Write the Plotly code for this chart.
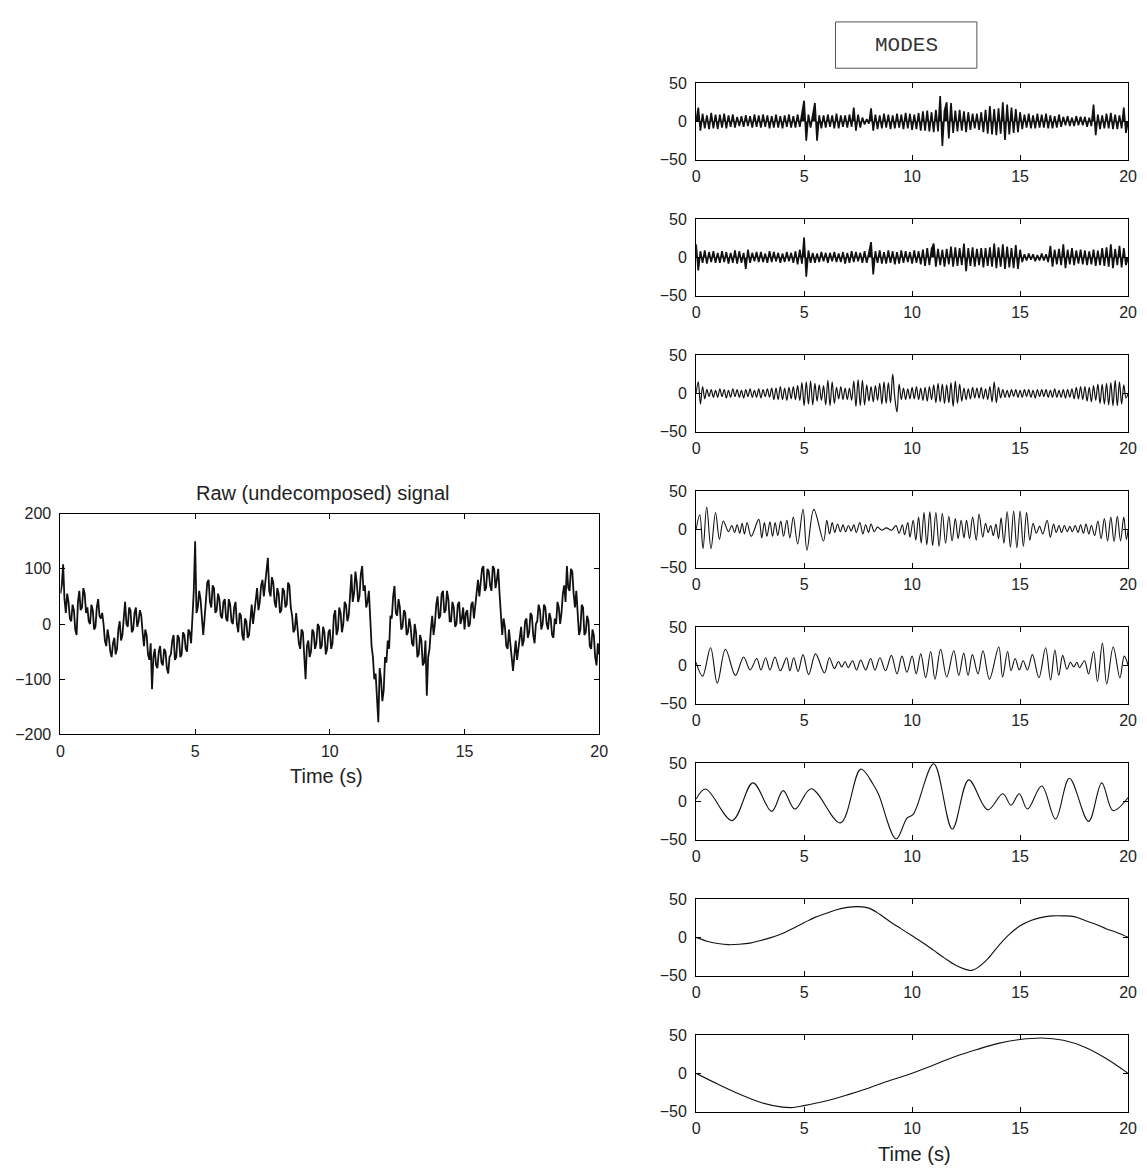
import plotly.graph_objects as go

# page offset: the browser body has an 8 px margin, so the figure is drawn
# 8 px smaller and every reference pixel position is shifted by that margin
OFF = 8
W, H = 1147 - OFF, 1173 - OFF

DT_RAW = 0.05
DT = 0.1

# ---------------- data ----------------
RAW = [
    55, 70, 108, 45, 20, 55, 40, 10, 5, 35, 25, -10, -20, 40, 60, 25, 30, 65, 55, 20,
    30, 5, 0, 35, 25, -10, -5, 30, 45, 15, 10, 20, 0, -30, -40, -10, -25, -50, -60, -35,
    -25, -55, -45, -10, 5, -30, -20, 20, 40, 0, -5, 30, 25, -15, -10, 20, 30, -5, 5, 25,
    15, -15, -40, -10, -20, -55, -65, -35, -118, -60, -45, -75, -80, -50, -40, -70, -75, -45, -50, -80,
    -90, -60, -55, -30, -20, -65, -60, -20, -25, -60, -55, -15, -20, -45, -50, -10, -15, -35, 20, 60,
    150, 20, 30, 60, 45, 0, -20, 10, 40, 75, 80, 40, 30, 70, 65, 20, 25, 55, 45, 15,
    10, 40, 45, 10, 5, 45, 35, 5, 0, 30, 40, 0, -15, 20, 15, -20, -30, 10, 5, -25,
    -20, 10, 35, 0, 20, 50, 65, 25, 40, 70, 80, 50, 70, 100, 120, 60, 50, 85, 75, 40,
    30, 65, 55, 20, 25, 65, 60, 30, 35, 75, 70, 30, 15, -15, -10, 20, -5, -35, -45, -10,
    -15, -50, -100, -40, -30, -60, -50, -10, -15, -45, -35, 0, -5, -45, -40, -5, -15, -55, -45, -15,
    -10, -45, -35, 15, 25, -20, -10, 30, 20, -15, 0, 40, 35, 5, 15, 50, 90, 40, 55, 95,
    75, 40, 50, 90, 105, 60, 70, 30, 40, 60, 5, -40, -60, -100, -90, -140, -178, -80, -100, -140,
    -120, -60, -70, -30, -45, 15, 10, 50, 69, 20, 15, 45, 30, -10, -5, 25, 20, -20, -15, 10,
    -5, -35, -40, 0, -15, -60, -55, -20, -30, -75, -70, -30, -130, -60, -45, -10, 15, -20, 0, 35,
    50, 10, 15, 55, 60, 20, 25, 60, 45, 5, 5, 40, 30, -5, 0, 35, 40, 0, 10, 30,
    -10, 20, 25, -5, 0, 35, 40, 10, 30, 60, 80, 50, 75, 100, 105, 60, 65, 100, 95, 70,
    60, 105, 100, 65, 80, 100, 55, 20, -20, 10, -5, -40, -45, -10, -30, -60, -85, -50, -30, -65,
    -45, -15, -5, -40, -30, 5, 10, -25, -15, 20, 15, -20, -35, 0, 5, 35, 25, -10, 0, 35,
    30, 0, -10, 20, 10, -20, -25, 10, 0, 40, 30, 0, 20, 55, 70, 40, 105, 65, 60, 100,
    95, 55, 30, 60, 20, -20, -10, 35, 30, -20, -15, 15, 5, -40, -45, -10, -20, -60, -75, -35,
    -55,
]

MODE1 = [
    0, 18, -12, 10, -9, 8, -10, 11, -9, 9,
    -10, 9, -8, 10, -9, 8, -7, 9, -8, 6,
    -6, 7, -7, 8, -6, 7, -8, 9, -7, 8,
    -8, 9, -7, 8, -9, 7, -8, 9, -8, 7,
    -9, 8, -7, 9, -8, 7, -8, 9, -7, 8,
    27, -25, 9, -8, 7, 24, -25, 8, -9, 8,
    -8, 9, -7, 8, -9, 10, -9, 8, -7, 8,
    -8, 9, -7, 18, -12, 9, -8, 5, -4, 3,
    -3, 17, -12, 9, -10, 8, -9, 10, -8, 9,
    -10, 8, -9, 10, -8, 9, -10, 11, -9, 10,
    -11, 9, -10, 11, -12, 13, -12, 14, -13, 12,
    -14, 15, -13, 33, -32, 14, 25, -22, 24, -15,
    14, -13, 15, -12, 13, -14, 12, -11, 10, -9,
    10, -11, 12, -14, 15, -16, 20, -17, 16, -18,
    17, -16, 25, -24, 22, -17, 18, -15, 16, -14,
    12, -10, 9, -8, 10, -9, 8, -9, 10, -8,
    9, -8, 10, -9, 8, -9, 7, -8, 9, -7,
    6, -5, 7, -6, 5, -6, 7, -5, 6, -5,
    6, -7, 5, -6, 22, -18, 9, -10, 8, -9,
    10, -9, 11, -10, 9, -10, 8, -9, 18, -15,
    0,
]

MODE2 = [
    17, -17, 8, -7, 9, -8, 7, -6, 8, -7,
    6, -7, 8, -6, 7, -8, 6, -7, 9, -8,
    8, -7, 6, -15, 10, -7, 6, -5, 7, -6,
    7, -6, 5, -7, 8, -6, 7, -5, 6, -7,
    5, -6, 7, -5, 6, -7, 8, -9, 10, -8,
    26, -25, 9, -7, 6, -7, 5, -6, 7, -5,
    6, -7, 6, -5, 7, -6, 5, -6, 7, -8,
    6, -7, 8, -6, 7, -5, 6, -7, 8, -7,
    6, 20, -22, 8, -7, 9, -8, 7, -8, 9,
    -7, 8, -9, 7, -8, 9, -7, 8, -6, 7,
    -8, 9, -7, 8, -9, 10, -11, 12, -10, 11,
    18, -12, 11, -10, 10, -12, 11, -9, 14, -12,
    13, -11, 12, -10, 18, -18, 12, -11, 13, -12,
    11, -10, 12, -13, 12, -11, 13, -12, 18, -14,
    13, -12, 17, -15, 14, -13, 12, -14, 16, -15,
    10, -6, 4, -4, 5, -3, 4, -5, 3, -4,
    5, -4, 4, -6, 15, -12, 10, -9, 11, -10,
    17, -14, 10, -9, 12, -10, 9, -8, 10, -9,
    9, -10, 8, -9, 10, -11, 9, -10, 12, -11,
    13, -12, 17, -14, 11, -10, 15, -13, 12, -10,
    0,
]

MODE3 = [
    0, 15, -14, 9, -7, 5, -4, 5, -5, 4,
    -5, 6, -4, 5, -6, 4, -5, 6, -4, 5,
    -5, 4, -6, 5, -4, 6, -5, 4, -5, 6,
    -6, 5, -4, 6, -5, 7, -8, 7, -8, 9,
    -8, 7, -9, 8, -7, 9, -8, 10, -9, 14,
    -16, 15, -14, 16, -15, 13, -10, 11, -9, 10,
    -15, 17, -16, 15, -13, 8, -7, 9, -8, 7,
    -8, 7, -9, 16, -17, 18, -16, 17, -15, 11,
    -10, 9, -11, 10, -9, 13, -14, 15, -13, 14,
    -12, 25, -6, -24, 12, -8, 7, -8, 6, -7,
    8, -7, 9, -8, 7, -9, 8, -10, 9, -8,
    11, -12, 13, -11, 12, -13, 11, -12, 14, -17,
    16, -13, 12, -10, 7, -8, 6, -7, 8, -6,
    7, -6, 8, -7, 6, -8, 9, -11, 15, -12,
    8, -6, 5, -5, 4, -5, 5, -4, 5, -5,
    4, -5, 5, -4, 5, -5, 4, -6, 5, -4,
    5, -4, 5, -5, 4, -5, 6, -5, 4, -5,
    5, -6, 5, -5, 6, -7, 8, -7, 9, -8,
    9, -10, 8, -11, 10, -9, 12, -13, 12, -14,
    13, -15, 14, -16, 17, -16, 15, -14, 11, -6,
    0,
]

MODE4_T = [0, 0.17, 0.32, 0.49, 0.69, 0.9, 1.08, 1.26, 1.5, 1.65, 1.78, 1.9,
           2.02, 2.13, 2.24, 2.36, 2.55, 2.9, 3.04, 3.16, 3.28, 3.42, 3.54,
           3.66, 3.78, 3.92, 4.05, 4.2, 4.34, 4.5, 4.7, 4.95, 5.13, 5.45, 5.9,
           6.05, 6.18, 6.3, 6.42, 6.55, 6.68, 6.8, 6.92, 7.05, 7.18, 7.3, 7.42,
           7.58, 7.72, 7.85, 7.98, 8.1, 8.25, 8.4, 8.6, 8.8, 9.05, 9.25, 9.4,
           9.55, 9.65, 9.8, 9.9, 10.05, 10.17, 10.3, 10.42, 10.55, 10.68,
           10.82, 10.95, 11.1, 11.25, 11.4, 11.55, 11.7, 11.85, 12.0, 12.13,
           12.27, 12.4, 12.52, 12.66, 12.8, 12.97, 13.1, 13.27, 13.4, 13.52,
           13.64, 13.76, 13.88, 14.0, 14.12, 14.25, 14.4, 14.55, 14.7, 14.85,
           15.0, 15.15, 15.3, 15.45, 15.6, 15.75, 15.9, 16.05, 16.25, 16.4,
           16.55, 16.67, 16.8, 16.92, 17.05, 17.18, 17.3, 17.42, 17.55, 17.68,
           17.8, 17.93, 18.05, 18.18, 18.3, 18.45, 18.6, 18.75, 18.9, 19.05,
           19.2, 19.35, 19.5, 19.65, 19.8, 19.92, 20.0]
MODE4_V = [0, 19, -25, 29, -25, 22, -13, 11, -3, 5, -4, 6,
           -5, 8, -6, 9, -9, 13, -11, 9, -9, 10, -9,
           9, -8, 11, -9, 12, -11, 16, -19, 26, -27, 26, -15,
           12, -6, 9, -4, 7, -3, 6, -3, 5, -2, 6, -4,
           9, -6, 6, -4, 7, -3, 3, -1, 2, -1, 5, -5,
           6, -7, 9, -10, 12, -14, 16, -18, 22, -20,
           23, -21, 22, -22, 21, -18, 17, -15, 14, -12,
           12, -11, 12, -12, 16, -14, 20, -10, 8, -4,
           5, -8, 7, -12, 15, -18, 23, -23, 24, -24,
           24, -22, 22, -14, 8, -5, 4, -6, 12, -10,
           7, -4, 5, -4, 5, -3, 4, -3, 5, -4,
           6, -5, 7, -6, 5, -8, 11, -12, 14, -15,
           16, -16, 17, -15, 16, -13, 0]

MODE5_T = [0, 0.3, 0.67, 0.98, 1.36, 1.82, 2.2, 2.5, 2.81, 3.0, 3.22, 3.42,
           3.65, 3.9, 4.19, 4.34, 4.52, 4.72, 4.95, 5.21, 5.53, 5.94, 6.17,
           6.4, 6.59, 6.74, 6.9, 7.04, 7.24, 7.43, 7.62, 7.85, 8.08, 8.28,
           8.51, 8.77, 9.04, 9.3, 9.53, 9.76, 10.0, 10.19, 10.4, 10.63, 10.86,
           11.06, 11.32, 11.6, 11.93, 12.16, 12.39, 12.59, 12.79, 13.05, 13.28,
           13.58, 14.01, 14.19, 14.42, 14.58, 14.77, 14.96, 15.14, 15.34,
           15.57, 15.87, 16.18, 16.41, 16.61, 16.79, 16.97, 17.17, 17.33,
           17.48, 17.63, 17.75, 17.98, 18.17, 18.4, 18.58, 18.81, 19.01,
           19.31, 19.62, 19.82, 20.0]
MODE5_V = [4, -14, 23, -23, 21, -13, 11, -6, 9, -6, 10, -6,
           11, -7, 10, -7, 10, -8, 14, -12, 15, -10, 10,
           -4, 5, -2, 5, -3, 6, -6, 7, -6, 9, -6,
           10, -7, 13, -11, 12, -9, 12, -11, 15, -16, 18,
           -18, 21, -15, 19, -13, 16, -13, 14, -11, 19,
           -18, 24, -15, 18, -7, 9, -6, 6, -6,
           14, -16, 23, -19, 20, -13, 13, -5, 4,
           -2, 4, -3, 6, -11, 18, -21, 29, -24,
           24, -16, 12, 0]

MODE6_T = [0, 0.44, 1.67, 2.63, 3.5, 4.03, 4.57, 5.33, 6.68, 7.62, 8.2, 8.45,
           9.26, 9.76, 10.05, 11.0, 11.86, 12.62, 13.5, 14.2, 14.58, 14.96,
           15.34, 16.0, 16.64, 17.28, 18.17, 18.78, 19.3, 20.0]
MODE6_V = [3, 16, -25, 24, -13, 14, -10, 16.5, -28, 42, 22, 9,
           -49, -22, -17, 49, -36, 28, -11, 10, -5, 10,
           -10, 20, -23, 30, -26, 24, -12, 5]

MODE7_T = [0, 0.5, 1, 1.5, 2, 2.5, 3, 3.5, 4, 4.5, 5, 5.5, 6, 6.5, 7, 7.5, 8,
           8.5, 9, 9.5, 10, 10.5, 11, 11.5, 12, 12.5, 12.75, 13, 13.5, 14,
           14.5, 15, 15.5, 16, 16.5, 17, 17.5, 18, 18.5, 19, 19.5, 20]
MODE7_V = [0, -5, -8, -9.5, -9, -7.5, -4, 0, 5, 12, 19, 26, 31, 36, 39, 40, 38,
           30, 20, 11, 2, -7, -17, -27, -36, -42, -43, -40, -28, -11,
           4, 15, 22, 26, 28, 28, 27, 22, 17, 11, 6, 0]

MODE8_T = [0, 1, 2, 3, 4, 4.5, 5, 6, 7, 8, 9, 10, 11, 12, 13, 14, 15, 16, 17,
           18, 19, 20]
MODE8_V = [0, -14, -27, -38, -44, -44.5, -42, -36, -28, -19, -9, 0, 11, 22,
           31, 39, 44, 46, 43, 34, 19, 0]

X_TICKS = [0, 5, 10, 15, 20]
RAW_Y_TICKS = [-200, -100, 0, 100, 200]
MODE_Y_TICKS = [-50, 0, 50]

TITLE_RAW = "Raw (undecomposed) signal"
TITLE_MODES = "MODES"
X_LABEL = "Time (s)"

def grid(values, step):
    return [round(i * step, 3) for i in range(len(values))]

# ---------------- layout helpers (reference pixel -> paper) ----------------
def px(x):
    return (x - OFF) / W

def py(y):
    return 1 - (y - OFF) / H

def xd(a, b):
    return [px(a), px(b)]

def yd(top, bottom):
    return [py(bottom), py(top)]

FONT = "Liberation Sans, Arial, Helvetica, sans-serif"
LINE = "#111111"
TICK_FONT = dict(family=FONT, size=16, color="#222")

def axis_style(**kw):
    d = dict(showline=True, linecolor="black", linewidth=1, mirror="ticks",
             ticks="inside", ticklen=5, tickcolor="black", tickwidth=1,
             showgrid=False, zeroline=False, tickfont=TICK_FONT)
    d.update(kw)
    return d

fig = go.Figure()

fig.add_trace(go.Scatter(x=grid(RAW, DT_RAW), y=RAW, mode="lines",
                         line=dict(color=LINE, width=1.8),
                         xaxis="x", yaxis="y", showlegend=False))

# (x, y, line shape, width, filled to zero -> dense noise band look)
modes = [
    (grid(MODE1, DT), MODE1, "linear", 1.7, True),
    (grid(MODE2, DT), MODE2, "linear", 1.7, True),
    (grid(MODE3, DT), MODE3, "spline", 1.2, False),
    (MODE4_T, MODE4_V, "spline", 1.1, False),
    (MODE5_T, MODE5_V, "spline", 1.1, False),
    (MODE6_T, MODE6_V, "spline", 1.1, False),
    (MODE7_T, MODE7_V, "spline", 1.1, False),
    (MODE8_T, MODE8_V, "spline", 1.1, False),
]

layout = dict(
    width=W, height=H,
    margin=dict(l=0, r=0, t=0, b=0),
    paper_bgcolor="white", plot_bgcolor="white",
    font=dict(family=FONT, color="#222"),
    showlegend=False,
)

layout["xaxis"] = axis_style(domain=xd(57, 602), range=[0, 20], tickvals=X_TICKS,
                             anchor="y", ticklabelstandoff=2)
layout["yaxis"] = axis_style(domain=yd(513, 737), range=[-200, 200],
                             tickvals=RAW_Y_TICKS, anchor="x", ticklabelstandoff=5)

for i, (tx, ty, shape, lw, filled) in enumerate(modes):
    k = i + 2
    top = 76 + 138 * i
    bottom = top + 78
    extra = dict(fill="tozeroy", fillcolor=LINE) if filled else {}
    fig.add_trace(go.Scatter(x=tx, y=ty, mode="lines",
                             line=dict(color=LINE, width=lw, shape=shape),
                             xaxis=f"x{k}", yaxis=f"y{k}", showlegend=False,
                             **extra))
    layout[f"xaxis{k}"] = axis_style(domain=xd(700, 1137), range=[0, 20],
                                     tickvals=X_TICKS, anchor=f"y{k}",
                                     ticklabelstandoff=2)
    layout[f"yaxis{k}"] = axis_style(domain=yd(top, bottom), range=[-50, 50],
                                     tickvals=MODE_Y_TICKS, anchor=f"x{k}",
                                     ticklabelstandoff=5)

def label(text, x, y, size, family=FONT, color="#222"):
    return dict(text=text, x=px(x), y=py(y), xref="paper", yref="paper",
                xanchor="center", yanchor="middle", showarrow=False,
                font=dict(family=family, size=size, color=color))

layout["annotations"] = [
    label(TITLE_RAW, 322, 492, 20),
    label(X_LABEL, 326, 779, 20),
    label(X_LABEL, 921, 1163, 20),
    label(TITLE_MODES, 912.5, 38, 21,
          family="Liberation Mono, Courier New, monospace", color="#333"),
]
layout["shapes"] = [
    dict(type="rect", xref="paper", yref="paper", x0=px(841), x1=px(984),
         y0=py(61), y1=py(14), line=dict(color="#555", width=1),
         fillcolor="rgba(0,0,0,0)"),
]

fig.update_layout(**layout)
fig.write_html("out.html")
